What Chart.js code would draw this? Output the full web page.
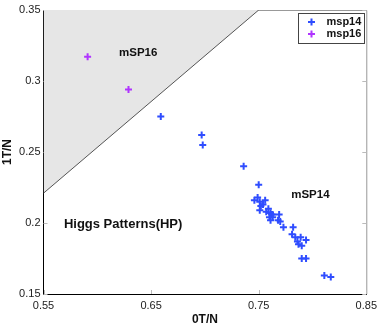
<!DOCTYPE html>
<html>
<head>
<meta charset="utf-8">
<script src="https://cdn.jsdelivr.net/npm/chart.js@4"></script>
<style>
  html, body { margin: 0; padding: 0; background: #fff; }
  #wrap { width: 382px; height: 327px; }
</style>
</head>
<body>
<div id="wrap"><canvas id="grafico"></canvas></div>
<script>
// dados
var msp14X = [0.659, 0.697, 0.698, 0.736, 0.750, 0.746, 0.749, 0.751, 0.756, 0.752, 0.751, 0.754,
  0.759, 0.757, 0.761, 0.762, 0.763, 0.760, 0.763, 0.761, 0.769, 0.768, 0.770, 0.773, 0.782,
  0.781, 0.784, 0.789, 0.794, 0.786, 0.787, 0.790, 0.790, 0.794, 0.811, 0.817];
var msp14Y = [0.275, 0.262, 0.255, 0.240, 0.227, 0.216, 0.218, 0.215, 0.216, 0.212, 0.209, 0.213,
  0.210, 0.208, 0.207, 0.206, 0.206, 0.204, 0.204, 0.202, 0.206, 0.202, 0.201, 0.197, 0.197,
  0.192, 0.190, 0.190, 0.188, 0.187, 0.185, 0.184, 0.175, 0.175, 0.163, 0.162];
var msp16X = [0.591, 0.629];
var msp16Y = [0.317, 0.294];
var fronteiraX = [0.55, 0.75];
var fronteiraY = [0.221, 0.35];
var ticksX = [0.55, 0.65, 0.75, 0.85];
var ticksY = [0.15, 0.2, 0.25, 0.3, 0.35];

function pontos(xs, ys) {
  return xs.map(function (x, i) { return { x: x, y: ys[i] }; });
}

var azul = "#2f4dff";
var roxo = "#b035ff";
var fonte = "'Liberation Sans', Arial, sans-serif";

// caixa, ticks internos, textos e legenda
var extras = {
  id: "extras",
  beforeDatasetsDraw: function (chart) {
    var c = chart.ctx, a = chart.chartArea;
    var sx = chart.scales.x, sy = chart.scales.y;
    c.save();
    c.strokeStyle = "#999";
    c.lineWidth = 1;
    c.beginPath();
    c.moveTo(a.left, a.top + 0.5);
    c.lineTo(a.right + 0.5, a.top + 0.5);
    c.lineTo(a.right + 0.5, a.bottom);
    c.stroke();
    c.strokeStyle = "#bbb";
    ticksX.forEach(function (t) {
      var px = Math.round(sx.getPixelForValue(t)) + 0.5;
      c.beginPath(); c.moveTo(px, a.bottom); c.lineTo(px, a.bottom - 4); c.stroke();
    });
    ticksY.forEach(function (t) {
      var py = Math.round(sy.getPixelForValue(t)) + 0.5;
      c.beginPath(); c.moveTo(a.left, py); c.lineTo(a.left + 4, py); c.stroke();
      c.beginPath(); c.moveTo(a.right, py); c.lineTo(a.right - 4, py); c.stroke();
    });
    c.restore();
  },
  afterDatasetsDraw: function (chart) {
    var c = chart.ctx;
    var sx = chart.scales.x, sy = chart.scales.y;
    c.save();
    c.fillStyle = "#111";
    c.textBaseline = "middle";
    c.textAlign = "center";
    c.font = "bold 11.5px " + fonte;
    c.fillText("mSP16", sx.getPixelForValue(0.638), sy.getPixelForValue(0.3197));
    c.fillText("mSP14", sx.getPixelForValue(0.798), sy.getPixelForValue(0.2197));
    c.font = "bold 13px " + fonte;
    c.fillText("Higgs Patterns(HP)", sx.getPixelForValue(0.624), sy.getPixelForValue(0.1993));

    // legenda
    var lx = 298.5, ly = 13.5, lw = 66, lh = 30;
    c.fillStyle = "#fff";
    c.fillRect(lx, ly, lw, lh);
    c.strokeStyle = "#444";
    c.lineWidth = 1;
    c.strokeRect(lx, ly, lw, lh);
    var itens = [["msp14", azul], ["msp16", roxo]];
    itens.forEach(function (it, i) {
      var yy = ly + 8.5 + i * 12;
      c.strokeStyle = it[1];
      c.lineWidth = 2;
      c.beginPath();
      c.moveTo(lx + 13, yy - 3.5); c.lineTo(lx + 13, yy + 3.5);
      c.moveTo(lx + 9.5, yy); c.lineTo(lx + 16.5, yy);
      c.stroke();
      c.fillStyle = "#111";
      c.textAlign = "left";
      c.font = "bold 11px " + fonte;
      c.fillText(it[0], lx + 28, yy);
    });
    c.restore();
  }
};

var ctx = document.getElementById("grafico").getContext("2d");
var chart = new Chart(ctx, {
  type: "scatter",
  data: {
    datasets: [
      {
        label: "fronteira",
        type: "line",
        data: pontos(fronteiraX, fronteiraY),
        borderColor: "#555",
        borderWidth: 1,
        backgroundColor: "#e6e6e6",
        fill: "end",
        pointRadius: 0,
        order: 3,
      },
      {
        label: "msp14",
        data: pontos(msp14X, msp14Y),
        pointStyle: "cross",
        pointRadius: 3.5,
        pointHoverRadius: 3.5,
        borderColor: azul,
        backgroundColor: azul,
        pointBorderWidth: 2,
        order: 1,
      },
      {
        label: "msp16",
        data: pontos(msp16X, msp16Y),
        pointStyle: "cross",
        pointRadius: 3.5,
        pointHoverRadius: 3.5,
        borderColor: roxo,
        backgroundColor: roxo,
        pointBorderWidth: 2,
        order: 1,
      },
    ],
  },
  options: {
    responsive: true,
    maintainAspectRatio: false,
    animation: false,
    events: [],
    layout: { padding: { top: 10, right: 14, left: 0, bottom: 0 } },
    plugins: { legend: { display: false }, tooltip: { enabled: false } },
    scales: {
      x: {
        type: "linear",
        min: 0.55,
        max: 0.85,
        afterBuildTicks: function (s) { s.ticks = ticksX.map(function (v) { return { value: v }; }); },
        afterFit: function (s) { s.height = 33; },
        grid: { display: false, drawTicks: false },
        border: { display: true, color: "#000", width: 1 },
        ticks: {
          padding: 5,
          color: "#222",
          font: { size: 11, family: fonte },
          maxRotation: 0,
          callback: function (v) { return String(Math.round(v * 100) / 100); },
        },
        title: {
          display: true,
          text: "0T/N",
          color: "#111",
          font: { size: 12, weight: "bold", family: fonte },
          padding: { top: 0, bottom: 0 },
        },
      },
      y: {
        type: "linear",
        min: 0.15,
        max: 0.35,
        afterBuildTicks: function (s) { s.ticks = ticksY.map(function (v) { return { value: v }; }); },
        afterFit: function (s) { s.width = 43.5; },
        grid: { display: false, drawTicks: false },
        border: { display: true, color: "#000", width: 1 },
        ticks: {
          padding: 3,
          color: "#222",
          font: { size: 11, family: fonte },
          callback: function (v) { return String(Math.round(v * 100) / 100); },
        },
        title: {
          display: true,
          text: "1T/N",
          color: "#111",
          font: { size: 12, weight: "bold", family: fonte },
          padding: { top: 0, bottom: 0 },
        },
      },
    },
  },
  plugins: [extras],
});
</script>
</body>
</html>
